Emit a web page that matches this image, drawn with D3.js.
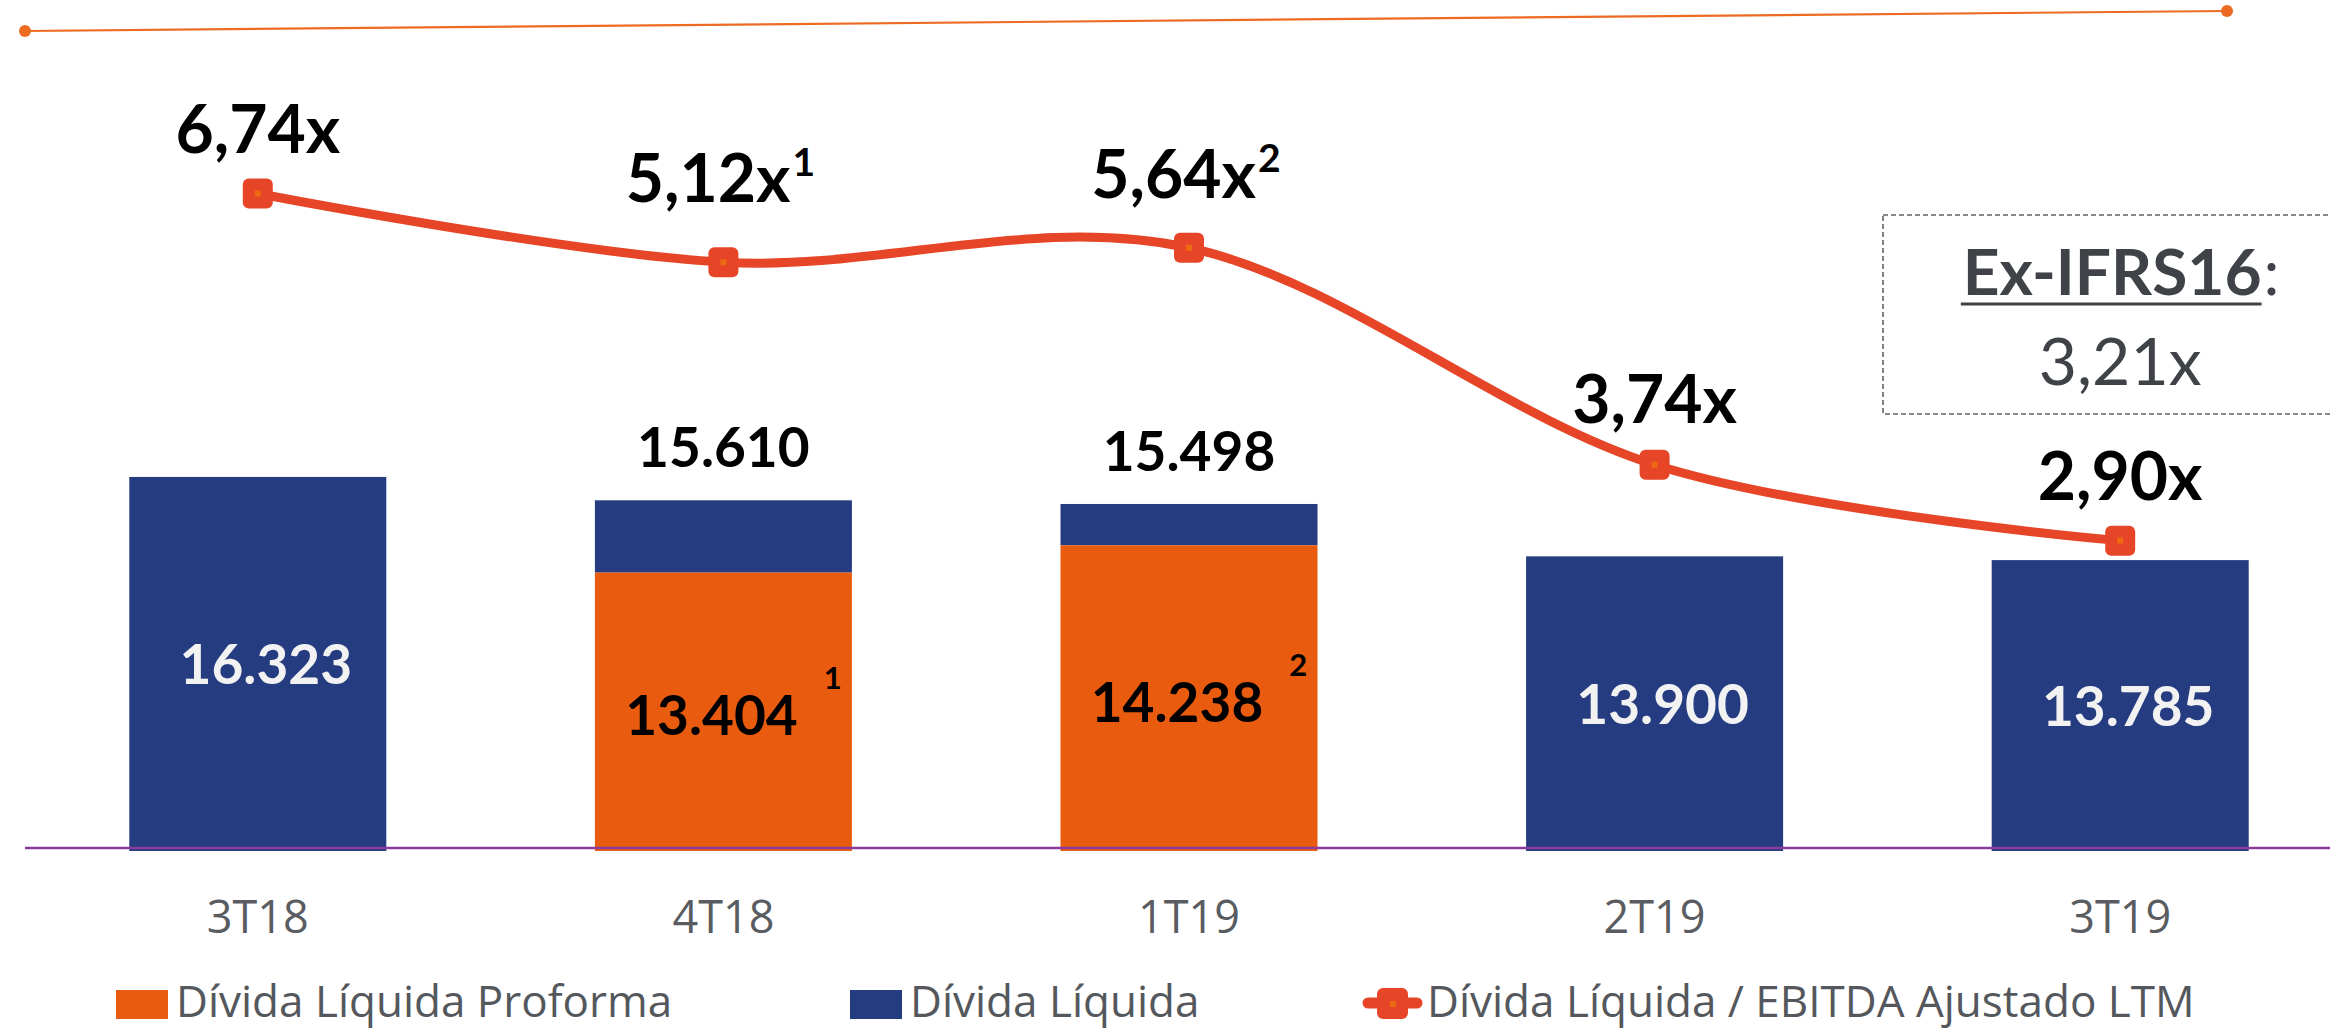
<!DOCTYPE html>
<html>
<head>
<meta charset="utf-8">
<script src="https://cdn.jsdelivr.net/npm/d3@7"></script>
<style>
  html, body { margin: 0; padding: 0; background: #fff; overflow: hidden; }
  svg { display: block; }
</style>
</head>
<body>
<svg id="chart" width="2330" height="1032"></svg>
<script>
// ---------------- DATA ----------------
const categories = ["3T18", "4T18", "1T19", "2T19", "3T19"];
const netDebt = [16323, 15610, 15498, 13900, 13785];          // Dívida Líquida (total bar height)
const proformaDebt = [null, 13404, 14238, null, null];        // Dívida Líquida Proforma
const proformaNotes = ["", "1", "2", "", ""];
const ratioPlotted = [6.74, 5.98, 6.14, 3.74, 2.90];          // line position as drawn
const ratioLabels = ["6,74x", "5,12x", "5,64x", "3,74x", "2,90x"];
const ratioNotes = ["", "1", "2", "", ""];
const exIfrsTitle = "Ex-IFRS16";
const exIfrsValue = "3,21x";
const legendLabels = ["Dívida Líquida Proforma", "Dívida Líquida", "Dívida Líquida / EBITDA Ajustado LTM"];

// ---------------- STYLE / LAYOUT ----------------
const C_BLUE = "#263C81", C_ORANGE = "#E95B0E", C_LINE = "#E64627", C_DOT = "#EE6A12";
const C_AXIS = "#8A3B9C", C_GRAY = "#595C61", C_BOX = "#3F4247";
const BOLD = "Lato, 'Open Sans', sans-serif";
const REG = "'Open Sans', Lato, sans-serif";
const ratioLift = [41, 60, 50, 42, 41];   // label offset above marker

const svg = d3.select("#chart");
const fmt = d3.formatLocale({decimal: ",", thousands: ".", grouping: [3], currency: ["", ""]}).format(",d");

const x = d3.scaleBand().domain(categories).range([25, 2353]).paddingInner(0.448).paddingOuter(0.224);
const y = d3.scaleLinear().domain([5000, 20000]).range([848, 356.45]);
const y2 = d3.scaleLinear().domain([-0.5, 8]).range([848, 848 - 8.5 * 90.4]);
const cx = c => x(c) + x.bandwidth() / 2;
const base = y(5000);

// Decorative header line
svg.append("line").attr("x1", 25).attr("y1", 31).attr("x2", 2227).attr("y2", 11)
  .attr("stroke", "#EC6A22").attr("stroke-width", 2.2);
[[25, 31], [2227, 11]].forEach(p => svg.append("circle").attr("cx", p[0]).attr("cy", p[1]).attr("r", 6).attr("fill", "#EC6A22"));

// ---------------- BARS ----------------
const rows = categories.map((c, i) => ({c, i, total: netDebt[i], pf: proformaDebt[i]}));
const gBars = svg.append("g");
rows.forEach(d => {
  const bottom = d.pf != null ? y(d.pf) : base + 3;
  gBars.append("rect").attr("x", x(d.c)).attr("width", x.bandwidth())
    .attr("y", y(d.total)).attr("height", bottom - y(d.total)).attr("fill", C_BLUE);
  if (d.pf != null) {
    gBars.append("rect").attr("x", x(d.c)).attr("width", x.bandwidth())
      .attr("y", y(d.pf)).attr("height", base + 3 - y(d.pf)).attr("fill", C_ORANGE);
  }
});

// axis baseline
svg.append("line").attr("x1", 25).attr("x2", 2330).attr("y1", base).attr("y2", base)
  .attr("stroke", C_AXIS).attr("stroke-width", 2.5);

// category labels
svg.append("g").selectAll("text").data(categories).join("text")
  .attr("x", d => cx(d)).attr("y", 933).attr("text-anchor", "middle")
  .attr("font-family", REG).attr("font-size", 45).attr("fill", C_GRAY).text(d => d);

// bar value labels
rows.forEach(d => {
  if (d.pf == null) {
    svg.append("text").attr("x", cx(d.c) + 8).attr("y", (y(d.total) + base) / 2 + 22)
      .attr("text-anchor", "middle").attr("font-family", BOLD).attr("font-weight", 700)
      .attr("font-size", 55).attr("fill", "#F2F2F2").text(fmt(d.total));
  } else {
    const t = svg.append("text").attr("x", cx(d.c) + 10).attr("y", (y(d.pf) + base) / 2 + 25)
      .attr("text-anchor", "middle").attr("font-family", BOLD).attr("font-weight", 700)
      .attr("font-size", 55).attr("fill", "#000");
    t.append("tspan").text(fmt(d.pf));
    t.append("tspan").attr("dx", 26).attr("dy", -46).attr("font-size", 31).text(proformaNotes[d.i]);
    svg.append("text").attr("x", cx(d.c)).attr("y", y(d.total) - 33)
      .attr("text-anchor", "middle").attr("font-family", BOLD).attr("font-weight", 700)
      .attr("font-size", 55).attr("fill", "#000").text(fmt(d.total));
  }
});

// ---------------- LINE ----------------
const pts = categories.map((c, i) => [cx(c), y2(ratioPlotted[i])]);
svg.append("path").attr("d", d3.line().curve(d3.curveCatmullRom.alpha(0))(pts))
  .attr("fill", "none").attr("stroke", C_LINE).attr("stroke-width", 9).attr("stroke-linejoin", "round");
pts.forEach(p => {
  svg.append("rect").attr("x", p[0] - 15).attr("y", p[1] - 15).attr("width", 30).attr("height", 30)
    .attr("rx", 6).attr("fill", C_LINE);
  svg.append("rect").attr("x", p[0] - 3).attr("y", p[1] - 3).attr("width", 6).attr("height", 6).attr("fill", C_DOT);
});
pts.forEach((p, i) => {
  const t = svg.append("text").attr("x", p[0] + (ratioNotes[i] ? -3 : 0)).attr("y", p[1] - ratioLift[i])
    .attr("text-anchor", "middle").attr("font-family", BOLD).attr("font-weight", 700)
    .attr("font-size", 66).attr("fill", "#000");
  t.append("tspan").text(ratioLabels[i]);
  if (ratioNotes[i]) t.append("tspan").attr("dx", 2).attr("dy", -26).attr("font-size", 39).text(ratioNotes[i]);
});

// ---------------- EX-IFRS16 BOX ----------------
svg.append("rect").attr("x", 1883).attr("y", 215).attr("width", 500).attr("height", 199)
  .attr("fill", "none").attr("stroke", "#5F6368").attr("stroke-width", 1.6).attr("stroke-dasharray", "5,3");
const boxCx = cx("3T19");
const tTitle = svg.append("text").attr("y", 295).attr("font-family", BOLD).attr("font-weight", 700)
  .attr("font-size", 64).attr("fill", C_BOX).text(exIfrsTitle);
const tColon = svg.append("text").attr("y", 295).attr("font-family", BOLD)
  .attr("font-size", 64).attr("fill", C_BOX).text(":");
const wT = tTitle.node().getComputedTextLength(), wC = tColon.node().getComputedTextLength();
const x0 = boxCx - (wT + wC) / 2;
tTitle.attr("x", x0); tColon.attr("x", x0 + wT + 2);
svg.append("line").attr("x1", x0 - 2).attr("x2", x0 + wT).attr("y1", 304).attr("y2", 304)
  .attr("stroke", C_BOX).attr("stroke-width", 3.2);
svg.append("text").attr("x", boxCx).attr("y", 385).attr("text-anchor", "middle")
  .attr("font-family", BOLD).attr("font-size", 66).attr("fill", C_BOX).text(exIfrsValue);

// ---------------- LEGEND ----------------
const LY = 990;
const lg = svg.append("g");
lg.append("rect").attr("x", 116).attr("y", LY).attr("width", 52).attr("height", 29).attr("fill", C_ORANGE);
lg.append("rect").attr("x", 850).attr("y", LY).attr("width", 52).attr("height", 29).attr("fill", C_BLUE);
lg.append("line").attr("x1", 1368).attr("x2", 1417).attr("y1", LY + 13).attr("y2", LY + 13)
  .attr("stroke", C_LINE).attr("stroke-width", 11).attr("stroke-linecap", "round");
lg.append("rect").attr("x", 1377).attr("y", LY - 2).attr("width", 31).attr("height", 31).attr("rx", 6).attr("fill", C_LINE);
lg.append("rect").attr("x", 1390).attr("y", LY + 11).attr("width", 6).attr("height", 6).attr("fill", C_DOT);
[176, 910, 1427].forEach((lx, i) => {
  lg.append("text").attr("x", lx).attr("y", LY + 27).attr("font-family", REG).attr("font-size", 44)
    .attr("fill", "#54585D").text(legendLabels[i]);
});
</script>
</body>
</html>
